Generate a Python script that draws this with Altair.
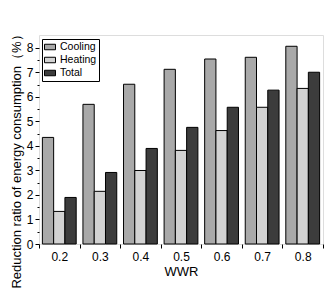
import altair as alt
import pandas as pd

wwr = ["0.2", "0.3", "0.4", "0.5", "0.6", "0.7", "0.8"]
cooling = [4.35, 5.70, 6.52, 7.13, 7.55, 7.62, 8.07]
heating = [1.33, 2.15, 3.00, 3.82, 4.63, 5.58, 6.35]
total = [1.90, 2.92, 3.90, 4.76, 5.58, 6.28, 7.01]
series = ["Cooling", "Heating", "Total"]
y_ticks = [0, 0.5, 1, 1.5, 2, 2.5, 3, 3.5, 4, 4.5, 5, 5.5, 6, 6.5, 7, 7.5, 8]

rows = []
for i, w in enumerate(wwr):
    for s, vals in zip(series, [cooling, heating, total]):
        rows.append({"WWR": w, "Type": s, "value": vals[i]})
df = pd.DataFrame(rows)

FONT = "Liberation Sans"

xenc = alt.X("WWR:N", sort=wwr, title="WWR",
             scale=alt.Scale(paddingInner=0, paddingOuter=0),
             axis=alt.Axis(labelAngle=0, tickBand="extent", tickSize=4, tickColor="black",
                           domain=False, labelFontSize=12, labelColor="black",
                           titleFontSize=13, titleFontWeight="normal", titleColor="black",
                           labelPadding=3, titlePadding=3, labelFont=FONT, titleFont=FONT))

yaxis = alt.Axis(values=y_ticks, tickColor="black", domain=False,
                 tickSize={"condition": {"test": "datum.value % 1 != 0", "value": 2}, "value": 4},
                 labelExpr="datum.value % 1 == 0 ? format(datum.value, 'd') : ''",
                 labelFontSize=12, labelColor="black", labelFont=FONT,
                 titleFont=FONT, titleFontSize=13, titleFontWeight="normal",
                 titleColor="black", titleX=-23, titleY=123, titleBaseline="middle",
                 grid=False, labelPadding=2)

bars = alt.Chart(df).mark_bar(stroke="black", strokeWidth=1).encode(
    x=xenc,
    xOffset=alt.XOffset("Type:N", sort=series,
                        scale=alt.Scale(paddingOuter=0.3, paddingInner=0)),
    y=alt.Y("value:Q", scale=alt.Scale(domain=[0, 8.53], nice=False),
            title="Reduction ratio of energy consumption（%）", axis=yaxis),
    color=alt.Color("Type:N", sort=series,
                    scale=alt.Scale(domain=series, range=["#a9a9a9", "#d2d2d2", "#3c3c3c"]),
                    legend=alt.Legend(title=None, orient="none", legendX=3, legendY=4,
                                      symbolType="M-1,-0.5H1V0.5H-1Z",
                                      symbolSize=121, symbolStrokeColor="black",
                                      symbolStrokeWidth=1, symbolOpacity=1,
                                      labelFont=FONT, labelFontSize=10.5, labelColor="black",
                                      strokeColor="black", padding=2, rowPadding=1,
                                      labelOffset=4, fillColor="white")),
)

chart = bars.properties(
    width=284, height=209,
    autosize=alt.AutoSizeParams(type="none"),
    padding={"left": 31, "top": 27, "right": 5, "bottom": 46},
).configure_view(stroke="black", strokeWidth=1.2).configure(background="white")

chart.save("out.html", embed_options={"renderer": "svg", "actions": False})
